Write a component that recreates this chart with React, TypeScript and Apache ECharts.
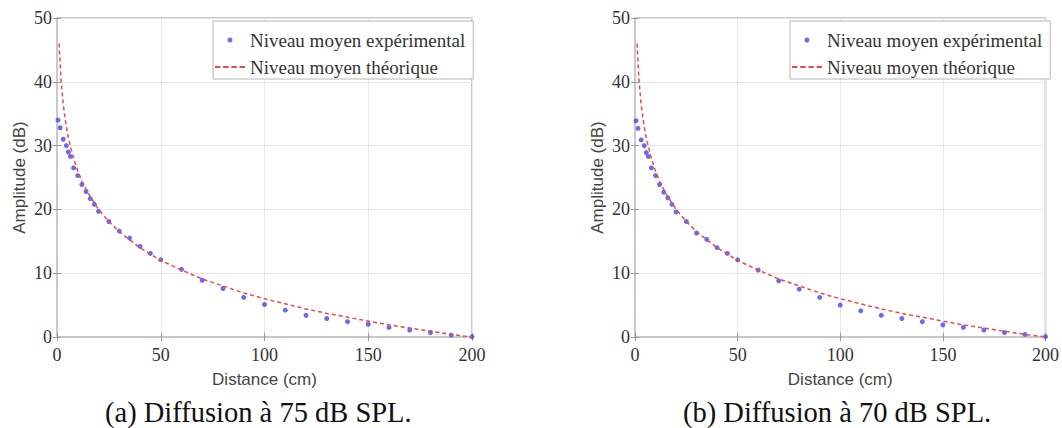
import React, { useEffect, useRef } from "react";
import * as echarts from "echarts";

// Experimental mean level (blue points)
const expDistances = [0.5, 1.5, 3, 4.5, 5.5, 6.5, 8, 10, 12, 14, 16, 18, 20, 25, 30, 35, 40, 45, 50, 60, 70, 80, 90, 100, 110, 120, 130, 140, 150, 160, 170, 180, 190, 200];
const expLevelsA = [34.0, 32.8, 31.0, 30.0, 29.0, 28.3, 26.5, 25.3, 23.9, 22.8, 21.7, 20.8, 19.7, 18.1, 16.6, 15.5, 14.2, 13.1, 12.1, 10.6, 8.9, 7.6, 6.2, 5.1, 4.2, 3.4, 2.9, 2.4, 2.0, 1.5, 1.1, 0.7, 0.3, 0.05];
const expLevelsB = [33.9, 32.7, 30.9, 30.0, 28.9, 28.3, 26.5, 25.3, 23.9, 22.7, 21.8, 20.8, 19.6, 18.1, 16.3, 15.3, 14.0, 13.1, 12.1, 10.5, 8.8, 7.5, 6.2, 5.0, 4.1, 3.4, 2.9, 2.4, 1.9, 1.5, 1.1, 0.7, 0.4, 0.05];

// Theoretical mean level (red dashed line)
const theoDistances = [1, 2, 3, 4, 5, 6, 8, 10, 12, 15, 20, 25, 30, 40, 50, 60, 70, 80, 90, 100, 110, 120, 130, 140, 150, 160, 170, 180, 190, 200];
const theoLevels = [46.0, 40.0, 36.5, 34.0, 32.0, 30.5, 28.0, 26.0, 24.4, 22.5, 20.0, 18.1, 16.5, 14.0, 12.0, 10.5, 9.1, 8.0, 6.9, 6.0, 5.2, 4.4, 3.7, 3.1, 2.5, 1.9, 1.4, 0.9, 0.4, 0.0];

const seriesNames = ["Niveau moyen expérimental", "Niveau moyen théorique"];
const captions = ["(a) Diffusion à 75 dB SPL.", "(b) Diffusion à 70 dB SPL."];
const xTitle = "Distance (cm)";
const yTitle = "Amplitude (dB)";

const zip = (xs: number[], ys: number[]) => xs.map((x, i) => [x, ys[i]]);

const SERIF = "Liberation Serif";
const SANS = "Liberation Sans";
const DASH_ICON = "path://M0,0H6V2H0Z M9,0H15V2H9Z M18,0H24V2H18Z M27,0H33V2H27Z";

export default function App() {
  const ref = useRef<HTMLDivElement>(null);
  useEffect(() => {
    if (!ref.current) return;
    const chart = echarts.init(ref.current, undefined, { renderer: "svg" });
    const grids = [
      { left: 57, top: 18, width: 415, height: 319 },
      { left: 635, top: 18, width: 416, height: 319 },
    ];
    const frame = "#c9c9c9";
    const tick = { show: true, inside: true, length: 4, lineStyle: { color: "#9a9a9a" } };
    const mkX = (i: number) => ({
      gridIndex: i,
      type: "value",
      min: 0,
      max: 200,
      interval: 50,
      axisLine: { show: true, lineStyle: { color: frame, width: 2 } },
      axisTick: tick,
      splitLine: { show: true, lineStyle: { color: "#e6e6e6", width: 1 } },
      axisLabel: { color: "#333", fontFamily: SERIF, fontSize: 18, margin: 9 },
      name: xTitle,
      nameLocation: "middle",
      nameGap: 34,
      nameTextStyle: { fontFamily: SANS, fontSize: 17, color: "#444" },
    });
    const mkXTop = (i: number) => ({
      gridIndex: i,
      type: "value",
      position: "top",
      min: 0,
      max: 200,
      interval: 50,
      axisLine: { show: true, lineStyle: { color: frame, width: 2 } },
      axisTick: tick,
      splitLine: { show: false },
      axisLabel: { show: false },
    });
    const mkY = (i: number) => ({
      gridIndex: i,
      type: "value",
      min: 0,
      max: 50,
      interval: 10,
      axisLine: { show: true, lineStyle: { color: frame, width: 2 } },
      axisTick: tick,
      splitLine: { show: true, lineStyle: { color: "#e6e6e6", width: 1 } },
      axisLabel: { color: "#333", fontFamily: SERIF, fontSize: 18, margin: 5 },
      name: yTitle,
      nameLocation: "middle",
      nameGap: 29,
      nameTextStyle: { fontFamily: SANS, fontSize: 17, color: "#444" },
    });
    const mkYRight = (i: number) => ({
      gridIndex: i,
      type: "value",
      position: "right",
      min: 0,
      max: 50,
      interval: 10,
      axisLine: { show: true, lineStyle: { color: frame, width: 2 } },
      axisTick: tick,
      splitLine: { show: false },
      axisLabel: { show: false },
    });
    const expSets = [expLevelsA, expLevelsB];
    const series: any[] = [];
    [0, 1].forEach((i) => {
      series.push({
        type: "scatter",
        name: seriesNames[0],
        xAxisIndex: i,
        yAxisIndex: i,
        data: zip(expDistances, expSets[i]),
        symbol: "circle",
        symbolSize: 5,
        itemStyle: { color: "#4646ee" },
        z: 2,
      });
      series.push({
        type: "line",
        name: seriesNames[1],
        xAxisIndex: i,
        yAxisIndex: i,
        data: zip(theoDistances, theoLevels),
        symbol: "none",
        showSymbol: false,
        smooth: false,
        lineStyle: { color: "#f04848", width: 1.5, type: [4, 3] },
        itemStyle: { color: "#f04848" },
        z: 3,
      });
    });
    const mkLegend = (left: number) => ({
      left,
      top: 21,
      orient: "vertical",
      data: [
        { name: seriesNames[0], icon: "circle" },
        { name: seriesNames[1], icon: DASH_ICON },
      ],
      itemWidth: 30,
      itemHeight: 5,
      itemGap: 7,
      padding: [9, 8, 2, 2],
      backgroundColor: "#fff",
      borderColor: "#b8b8b8",
      borderWidth: 1,
      textStyle: { fontFamily: SERIF, fontSize: 19, lineHeight: 20, color: "#333" },
    });
    chart.setOption({
      animation: false,
      backgroundColor: "#fff",
      grid: grids.map((g) => ({ ...g, show: true, borderColor: frame, borderWidth: 2, backgroundColor: "#fff" })),
      xAxis: [mkX(0), mkX(1), mkXTop(0), mkXTop(1)],
      yAxis: [mkY(0), mkY(1), mkYRight(0), mkYRight(1)],
      legend: [mkLegend(213), mkLegend(790)],
      series,
      graphic: [
        {
          type: "text",
          left: 105,
          top: 398,
          style: { text: captions[0], fontFamily: SERIF, fontSize: 28.5, fill: "#111" },
        },
        {
          type: "text",
          left: 683,
          top: 398,
          style: { text: captions[1], fontFamily: SERIF, fontSize: 28.5, fill: "#111" },
        },
      ],
    });
    return () => chart.dispose();
  }, []);
  return (
    <div
      ref={ref}
      style={{ position: "absolute", left: 0, top: 0, width: 1062, height: 428, background: "#fff" }}
    />
  );
}
